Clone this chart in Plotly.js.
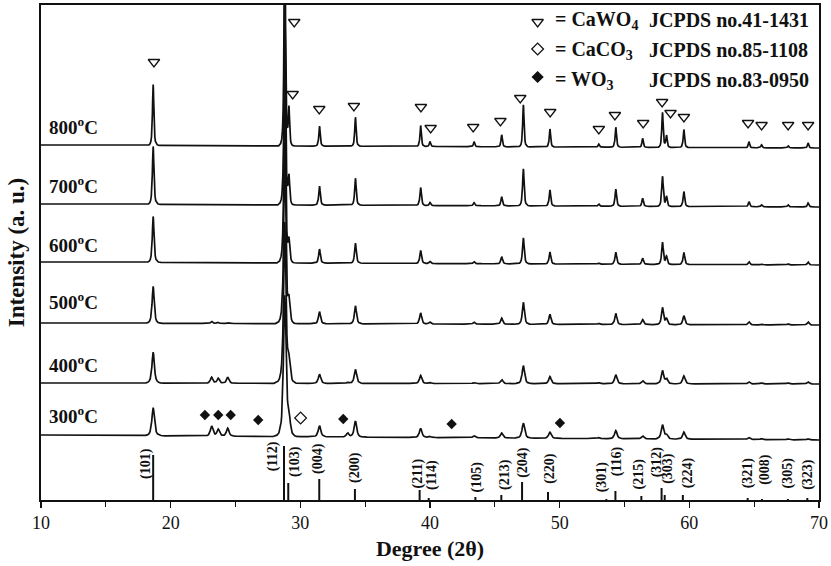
<!DOCTYPE html>
<html>
<head>
<meta charset="utf-8">
<script src="https://cdn.plot.ly/plotly-3.0.1.min.js"></script>
<style>
  html, body { margin: 0; padding: 0; background: #ffffff; }
  #chart { width: 831px; height: 566px; }
</style>
</head>
<body>
<div id="chart"></div>
<script>
// ---- XRD data (2θ in degrees, intensity in arbitrary units) ----
const tempLabels = ['800', '700', '600', '500', '400', '300'];

// peak centres shared by all calcination temperatures (CaWO4 + WO3 reflections)
const peakPositions = [18.65, 23.16, 23.67, 24.40, 28.80, 29.12, 31.48, 33.65, 34.25, 39.28, 40.00,
                       43.40, 45.53, 47.20, 49.25, 53.02, 54.33, 56.40, 57.93, 58.24, 59.58,
                       64.60, 65.57, 67.62, 69.16];

// peak heights above the baseline for each pattern
const peaks800 = [61, 0, 0, 0, 240, 38, 20, 0, 29, 21, 5, 5, 12, 42, 18, 3, 20, 9, 35, 12, 18, 6, 3, 2, 5];
const peaks700 = [58, 0, 0, 0, 210, 28, 19, 0, 27, 18, 3, 3, 9, 37, 16, 2, 17, 8, 30, 10, 15, 5, 2, 2, 4];
const peaks600 = [46, 0, 0, 0, 200, 22, 14, 0, 20, 13, 2, 2, 7, 26, 12, 1, 12, 6, 22, 8, 12, 3, 1, 1, 3];
const peaks500 = [37, 2, 1, 1, 180, 22, 12, 0, 18, 11, 2, 2, 6, 22, 10, 1, 11, 5, 17, 6, 9, 3, 1, 1, 3];
const peaks400 = [31, 6, 5, 6, 160, 20, 9, 1, 14, 8, 1, 1, 4, 18, 7, 1, 9, 3, 13, 5, 8, 2, 1, 1, 2];
const peaks300 = [28, 10, 7, 8, 140, 18, 11, 4, 16, 9, 1, 2, 5, 15, 6, 1, 8, 3, 14, 4, 7, 2, 1, 1, 1];

// vertical offset of each pattern at 2θ = 10° and 2θ = 70°
const baselineStart = [355, 296, 238, 177, 117, 65];
const baselineEnd   = [352, 293, 235, 175, 116, 60];
// peak width parameter (degrees), broader at low calcination temperature
const peakHalfWidth = [0.08, 0.09, 0.10, 0.12, 0.14, 0.15];

// CaWO4 reference pattern, JCPDS no.41-1431
const refPositions = [18.65, 28.74, 29.07, 31.46, 34.21, 39.20, 39.90, 43.50, 45.50, 47.10, 49.10,
                      53.60, 54.30, 56.30, 57.86, 58.10, 59.50, 64.50, 65.60, 67.60, 69.10];
const refHeights   = [45, 54, 17, 21, 11, 10, 2, 3, 5, 18, 8, 1, 9, 4, 12, 5, 5, 2, 1, 1, 2];
const refIndices   = ['(101)', '(112)', '(103)', '(004)', '(200)', '(211)', '(114)', '(105)', '(213)',
                      '(204)', '(220)', '(301)', '(116)', '(215)', '(312)', '(303)', '(224)',
                      '(321)', '(008)', '(305)', '(323)'];

// phase markers
const cawo4MarkX = [18.71, 29.53, 29.41, 31.46, 34.13, 39.30, 40.05, 43.33, 45.43, 46.96, 49.27,
                    53.02, 54.26, 56.44, 57.90, 58.55, 59.58, 64.53, 65.57, 67.62, 69.16];
const cawo4MarkY = [438, 478, 406, 391, 394, 393, 372, 373, 379, 402, 388,
                    371, 385, 377, 398, 387, 383, 377, 375, 375, 375];
const caco3MarkX = [30.02];
const caco3MarkY = [82];
const wo3MarkX = [22.64, 23.67, 24.63, 26.75, 33.31, 41.67, 50.02];
const wo3MarkY = [85, 85, 85, 80, 81, 76, 77];

const legendRows = [
  { symbol: 'triangle-down-open', phase: '= CaWO<sub>4</sub>', card: 'JCPDS no.41-1431' },
  { symbol: 'diamond-open',       phase: '= CaCO<sub>3</sub>', card: 'JCPDS no.85-1108' },
  { symbol: 'diamond',            phase: '= WO<sub>3</sub>',   card: 'JCPDS no.83-0950' }
];

// ---- layout constants ----
const FONT = 'Liberation Serif, Times New Roman, serif';
const INK = '#111111';
const seriesLabelY = [374, 315, 256, 199, 136, 85];
const refLabelX = [18.10, 27.91, 29.58, 31.36, 34.21, 39.07, 40.15, 43.62, 45.78, 47.16, 49.24,
                   53.25, 54.41, 56.11, 57.49, 58.34, 59.88, 64.51, 65.82, 67.60, 69.14];
const refLabelY = [36, 44, 39, 42, 33, 26.5, 25, 23.5, 26, 38, 32, 23.5, 38.5, 26.5, 38.5, 32, 27.5,
                   27.5, 31, 27.5, 26];
const legendSymbolX = 48.30, legendPhaseX = 49.48, legendCardX = 56.72;
const legendRowY = [480, 450, 420];
const legendSymbolY = [478, 451, 423];

// Pearson VII style peak profile (exponent 1.5), trimmed so each peak returns to the baseline
const T_STEPS = [-6, -4, -3, -2.2, -1.6, -1.1, -0.75, -0.45, -0.2, 0, 0.2, 0.45, 0.75, 1.1, 1.6, 2.2, 3, 4, 6];
function pattern(heights, w, b0, b1) {
  const xs = new Set([10, 70]);
  peakPositions.forEach((p, i) => {
    if (heights[i] > 0) T_STEPS.forEach(t => xs.add(+(p + t * w).toFixed(4)));
  });
  const x = [...xs].sort((a, b) => a - b);
  const cut = Math.pow(1 + 36, -1.5);
  const y = x.map(xx => {
    let v = b0 + (b1 - b0) * (xx - 10) / 60;
    peakPositions.forEach((p, i) => {
      const h = heights[i];
      if (!h) return;
      const t = (xx - p) / w;
      if (Math.abs(t) <= 6) v += h * (Math.pow(1 + t * t, -1.5) - cut) / (1 - cut);
    });
    return v;
  });
  return { x, y };
}

const allPeaks = [peaks800, peaks700, peaks600, peaks500, peaks400, peaks300];
const traces = allPeaks.map((h, k) => {
  const p = pattern(h, peakHalfWidth[k], baselineStart[k], baselineEnd[k]);
  return {
    type: 'scatter', mode: 'lines', x: p.x, y: p.y,
    line: { color: INK, width: 1.7 }, hoverinfo: 'skip', showlegend: false,
    name: tempLabels[k] + ' °C'
  };
});

// stick pattern of the reference card
const stickX = [], stickY = [];
refPositions.forEach((p, i) => { stickX.push(p, p, null); stickY.push(0, refHeights[i], null); });
traces.push({
  type: 'scatter', mode: 'lines', x: stickX, y: stickY,
  line: { color: INK, width: 2 }, hoverinfo: 'skip', showlegend: false
});

// phase markers
traces.push({
  type: 'scatter', mode: 'markers', x: cawo4MarkX, y: cawo4MarkY, showlegend: false,
  marker: { symbol: 'triangle-down-open', size: 10, color: INK, line: { width: 1.3, color: INK } }
});
traces.push({
  type: 'scatter', mode: 'markers', x: caco3MarkX, y: caco3MarkY, showlegend: false,
  marker: { symbol: 'diamond-open', size: 9, color: INK, line: { width: 1.2, color: INK } }
});
traces.push({
  type: 'scatter', mode: 'markers', x: wo3MarkX, y: wo3MarkY, showlegend: false,
  marker: { symbol: 'diamond', size: 8, color: INK }
});
// key symbols
legendRows.forEach((r, i) => {
  traces.push({
    type: 'scatter', mode: 'markers', x: [legendSymbolX], y: [legendSymbolY[i]], showlegend: false,
    marker: { symbol: r.symbol, size: r.symbol === 'diamond' ? 8 : (r.symbol === 'diamond-open' ? 9 : 10),
              color: INK, line: { width: 1.3, color: INK } }
  });
});

const annotations = [];
tempLabels.forEach((t, k) => {
  annotations.push({
    x: 10.46, y: seriesLabelY[k], xref: 'x', yref: 'y', xanchor: 'left', yanchor: 'middle',
    text: t + '<sup>o</sup>C', showarrow: false,
    font: { family: FONT, size: 19, color: INK, weight: 'bold' }
  });
});
refIndices.forEach((lab, i) => {
  annotations.push({
    x: refLabelX[i], y: refLabelY[i], xref: 'x', yref: 'y', xanchor: 'center', yanchor: 'middle',
    text: lab, textangle: -90, showarrow: false,
    font: { family: FONT, size: 14, color: INK, weight: 'bold' }
  });
});
legendRows.forEach((r, i) => {
  annotations.push({
    x: legendPhaseX, y: legendRowY[i], xref: 'x', yref: 'y', xanchor: 'left', yanchor: 'middle',
    text: r.phase, showarrow: false, font: { family: FONT, size: 20, color: INK, weight: 'bold' }
  });
  annotations.push({
    x: legendCardX, y: legendRowY[i], xref: 'x', yref: 'y', xanchor: 'left', yanchor: 'middle',
    text: r.card, showarrow: false, font: { family: FONT, size: 20, color: INK, weight: 'bold' }
  });
});

const layout = {
  width: 831, height: 566,
  margin: { l: 41, r: 12, t: 5, b: 66 },
  paper_bgcolor: '#ffffff', plot_bgcolor: '#ffffff',
  showlegend: false,
  xaxis: {
    range: [10, 70], tick0: 10, dtick: 10, ticks: 'outside', ticklen: 6, tickwidth: 1.5, tickcolor: INK,
    minor: { dtick: 5, tick0: 10, ticks: 'outside', ticklen: 5, tickwidth: 1.3, tickcolor: INK, showgrid: false },
    showline: true, linewidth: 1.6, linecolor: INK, mirror: true,
    showgrid: false, zeroline: false, automargin: false,
    tickfont: { family: FONT, size: 18, color: INK },
    title: { text: 'Degree (2θ)', standoff: 8, font: { family: FONT, size: 22, color: INK, weight: 'bold' } }
  },
  yaxis: {
    range: [0, 495], showticklabels: false, ticks: '',
    showline: true, linewidth: 1.6, linecolor: INK, mirror: true,
    showgrid: false, zeroline: false, automargin: false,
    title: { text: 'Intensity (a. u.)', standoff: 8, font: { family: FONT, size: 23, color: INK, weight: 'bold' } }
  },
  annotations: annotations
};

Plotly.newPlot('chart', traces, layout, { staticPlot: true, displayModeBar: false });
</script>
</body>
</html>
